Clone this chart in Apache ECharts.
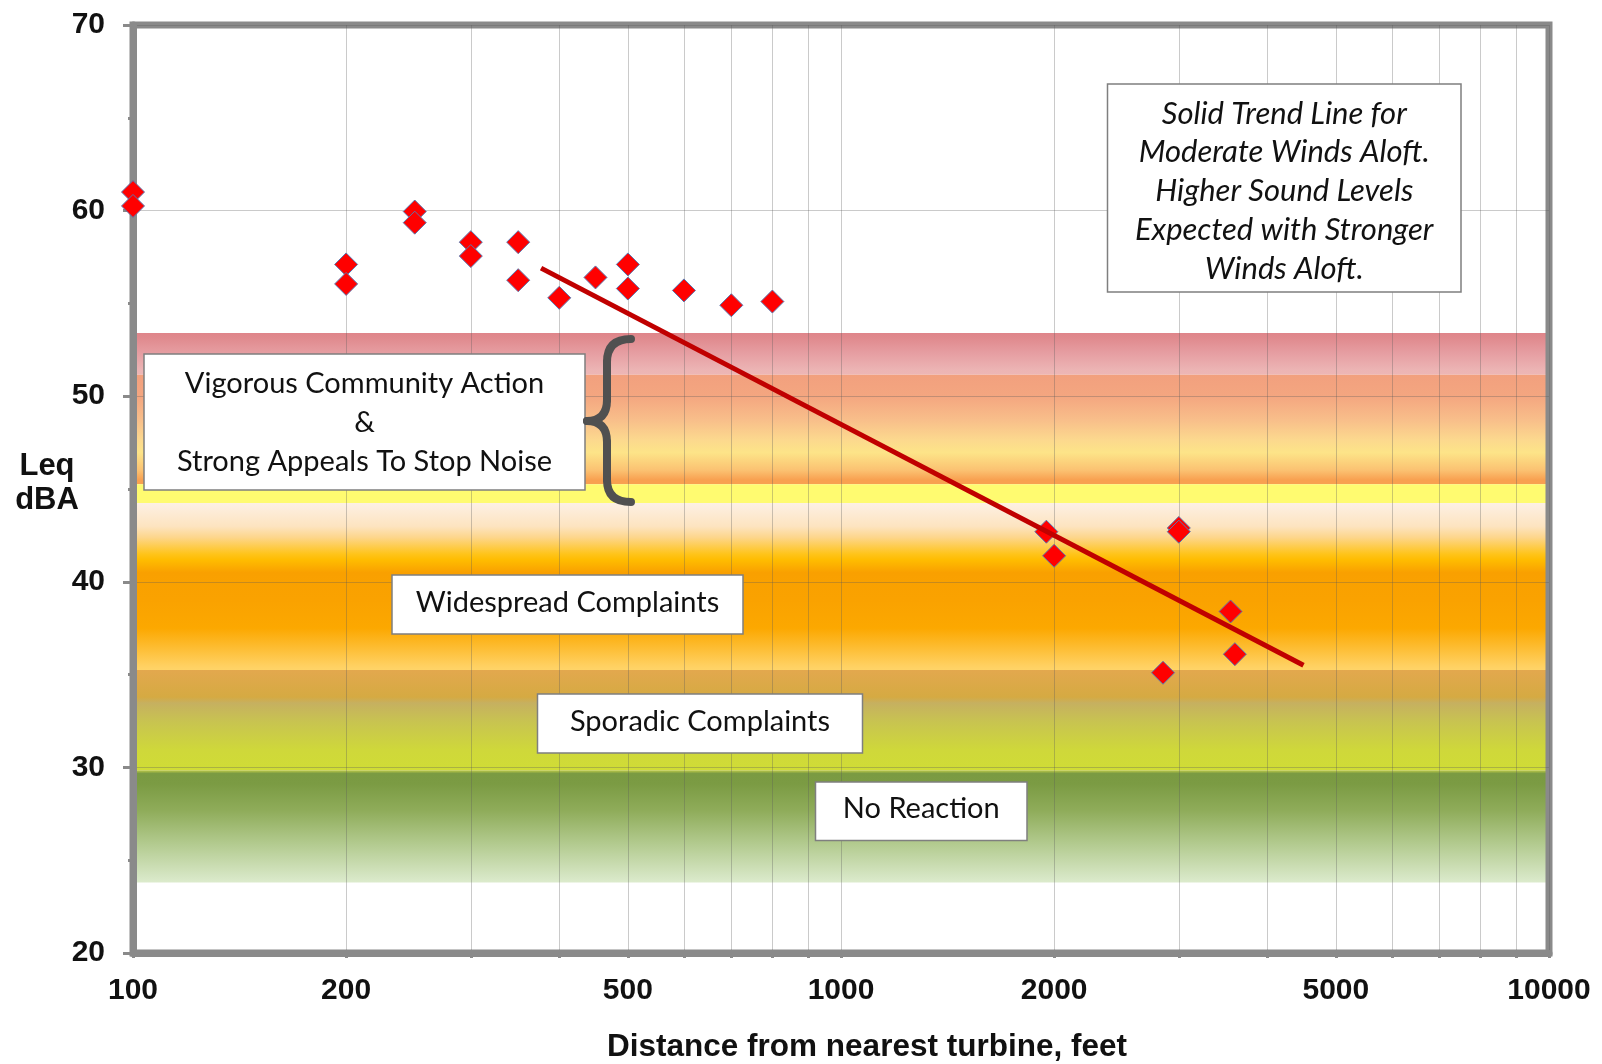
<!DOCTYPE html>
<html>
<head>
<meta charset="utf-8">
<script src="https://cdn.jsdelivr.net/npm/echarts@6/dist/echarts.min.js"></script>
<style>
html,body{margin:0;padding:0;background:#fff;}
#chart{width:1602px;height:1064px;}
</style>
</head>
<body>
<div id="chart"></div>
<script>
// ---- data ----
const distances = [100, 100, 200, 200, 250, 250, 300, 300, 350, 350, 400, 450, 500, 500, 600, 700, 800, 1950, 2000, 2850, 3000, 3000, 3550, 3600];
const levels    = [61.0, 60.25, 57.1, 56.05, 59.95, 59.35, 58.3, 57.55, 58.3, 56.25, 55.3, 56.4, 57.1, 55.8, 55.7, 54.9, 55.1, 42.7, 41.4, 35.1, 42.9, 42.7, 38.4, 36.1];
const trendX = [377, 4500];
const trendY = [56.9, 35.5];
const xTickValues = [100, 200, 300, 400, 500, 600, 700, 800, 900, 1000, 2000, 3000, 4000, 5000, 6000, 7000, 8000, 9000, 10000];
const xLabelValues = [100, 200, 500, 1000, 2000, 5000, 10000];
const yTickLabels = [20, 30, 40, 50, 60, 70];
// reaction zones: [top dBA, bottom dBA]
const zoneTops    = [53.4, 51.15, 45.25, 44.25, 35.25, 29.85];
const zoneBottoms = [51.15, 45.25, 44.25, 35.25, 29.85, 23.8];
const zoneLabels = ['Vigorous Community Action\n&\nStrong Appeals To Stop Noise', 'Widespread Complaints', 'Sporadic Complaints', 'No Reaction'];
const noteText = 'Solid Trend Line for\nModerate Winds Aloft.\nHigher Sound Levels\nExpected with Stronger\nWinds Aloft.';

// ---- styles ----
function grad(stops) {
  return {type: 'linear', x: 0, y: 0, x2: 0, y2: 1,
    colorStops: stops.map(s => ({offset: s[0], color: s[1]}))};
}
const zoneFills = [
  grad([[0, '#df858a'], [0.12, '#e08a8e'], [0.48, '#e69ea2'], [0.88, '#ecb4b4'], [1, '#edb6b5']]),
  grad([[0, '#f2a07e'], [0.195, '#f4a680'], [0.41, '#f8be8a'], [0.59, '#fcd88e'], [0.71, '#fde488'], [0.87, '#fbc272'], [0.96, '#f8a050'], [1, '#f8a050']]),
  grad([[0, '#fffb70'], [1, '#fffb70']]),
  grad([[0, '#fdf0e4'], [0.14, '#fde4c0'], [0.206, '#fdd68c'], [0.306, '#ffc41a'], [0.342, '#ffbc00'], [0.417, '#f9a000'], [0.583, '#faa200'], [0.75, '#fca800'], [0.861, '#fdbc30'], [0.972, '#ffd060'], [1, '#ffd468']]),
  grad([[0, '#e3a84e'], [0.27, '#d5aa42'], [0.33, '#c6b060'], [0.52, '#c8c450'], [0.8, '#cfd83a'], [1, '#d0dc36']]),
  grad([[0, '#c0cc48'], [0.03, '#7a9a42'], [0.12, '#7b9b43'], [0.36, '#8fac5a'], [0.65, '#b2ca8e'], [0.95, '#d6e6c4'], [1, '#dcebcc']])
];

const AXIS = '#8a8a8a';
const GRIDC = 'rgba(90,90,90,0.32)';
const TXT = '#111';
const BOXFONT = 'Lato';

const chart = echarts.init(document.getElementById('chart'), null, {renderer: 'canvas'});

const zoneData = zoneTops.map((t, i) => [
  {yAxis: t, itemStyle: {color: zoneFills[i], opacity: 1}},
  {yAxis: zoneBottoms[i]}
]);

function box(x, y, w, h, text, italic, size, lh, dy) {
  return [
    {type: 'rect', z: 100, shape: {x: x, y: y, width: w, height: h},
      style: {fill: '#fff', stroke: '#7f7f7f', lineWidth: 1.5}},
    {type: 'text', z: 101, x: x + w / 2, y: y + h / 2 + (dy || 0),
      style: {text: text, fill: TXT, align: 'center', verticalAlign: 'middle',
        font: (italic ? 'italic ' : '') + size + 'px ' + BOXFONT, lineHeight: lh}}
  ];
}

const braceStyle = {stroke: '#505050', lineWidth: 8, fill: 'none', lineCap: 'round'};
function brace() {
  const segs = [
    {type: 'bezierCurve', shape: {x1: 631, y1: 339, cpx1: 607, cpy1: 339, x2: 607, y2: 362}},
    {type: 'line', shape: {x1: 607, y1: 362, x2: 607, y2: 400}},
    {type: 'bezierCurve', shape: {x1: 607, y1: 400, cpx1: 607, cpy1: 421, x2: 587, y2: 421}},
    {type: 'bezierCurve', shape: {x1: 587, y1: 421, cpx1: 607, cpy1: 421, x2: 607, y2: 442}},
    {type: 'line', shape: {x1: 607, y1: 442, x2: 607, y2: 480}},
    {type: 'bezierCurve', shape: {x1: 607, y1: 480, cpx1: 607, cpy1: 502, x2: 631, y2: 502}}
  ];
  return segs.map(s => Object.assign(s, {z: 100, style: braceStyle}));
}

const nameFont = {fontFamily: 'Liberation Sans', fontWeight: 'bold', fontSize: 31, color: '#111', lineHeight: 34, align: 'center'};

chart.setOption({
  animation: false,
  backgroundColor: '#fff',
  grid: {left: 133, right: 53, top: 25, bottom: 111, show: true, containLabel: false,
    outerBoundsMode: 'none',
    borderColor: AXIS, borderWidth: 7, backgroundColor: 'transparent'},
  xAxis: {
    type: 'log', logBase: 10, min: 100, max: 10000,
    name: 'Distance from nearest turbine, feet',
    nameLocation: 'middle', nameGap: 78, nameMoveOverlap: false,
    nameTextStyle: {fontFamily: 'Liberation Sans', fontWeight: 'bold', fontSize: 31.5, color: '#111', padding: [0, 0, 0, 52]},
    axisLine: {show: true, lineStyle: {color: AXIS, width: 7}},
    axisTick: {show: true, customValues: xTickValues, length: 5, inside: false, lineStyle: {color: AXIS, width: 3}},
    axisLabel: {customValues: xLabelValues, formatter: v => String(v), fontFamily: 'Liberation Sans', fontWeight: 'bold', fontSize: 30, color: '#111', margin: 23},
    splitLine: {show: true, lineStyle: {color: GRIDC, width: 1}},
    minorTick: {show: false}, minorSplitLine: {show: false}
  },
  yAxis: {
    type: 'value', min: 20, max: 70, interval: 10,
    name: '{a|Leq}\n{a|dBA}\n{s| }', nameLocation: 'middle', nameRotate: 0, nameGap: 86, nameMoveOverlap: false,
    nameTextStyle: {fontFamily: 'Liberation Sans', fontWeight: 'bold', fontSize: 31, color: '#111', align: 'center', lineHeight: 34,
      rich: {a: nameFont, s: {fontSize: 6, lineHeight: 12}}},
    axisLine: {show: true, lineStyle: {color: AXIS, width: 7}},
    axisTick: {show: true, length: 10, lineStyle: {color: AXIS, width: 3}},
    minorTick: {show: true, splitNumber: 2, length: 5, lineStyle: {color: AXIS, width: 3}},
    axisLabel: {fontFamily: 'Liberation Sans', fontWeight: 'bold', fontSize: 30, color: '#111', margin: 28},
    splitLine: {show: true, lineStyle: {color: GRIDC, width: 1}}
  },
  series: [
    {
      name: 'zones', type: 'line', data: [], z: -1, silent: true,
      markArea: {silent: true, z: -1, data: zoneData, label: {show: false}}
    },
    {
      name: 'Measured', type: 'scatter', z: 3,
      data: distances.map((d, i) => [d, levels[i]]),
      symbol: 'diamond', symbolSize: 23,
      itemStyle: {color: '#ff0000', borderColor: '#5a78b0', borderWidth: 1, opacity: 1}
    },
    {
      name: 'Trend', type: 'line', z: 4,
      data: trendX.map((d, i) => [d, trendY[i]]),
      showSymbol: false, symbol: 'none',
      lineStyle: {color: '#c00000', width: 5}
    }
  ],
  graphic: [].concat(
    box(144, 354, 441, 136, zoneLabels[0], false, 29, 39, 1),
    brace(),
    box(1107.5, 84, 353.5, 208, noteText, true, 31, 38.75, 3),
    box(392, 575, 351, 59, zoneLabels[1], false, 29, 30, -1.5),
    box(537.5, 694, 325, 59, zoneLabels[2], false, 29, 30, -1.5),
    box(815.5, 782, 211.5, 58.5, zoneLabels[3], false, 29, 30, -2.5)
  )
});
</script>
</body>
</html>
